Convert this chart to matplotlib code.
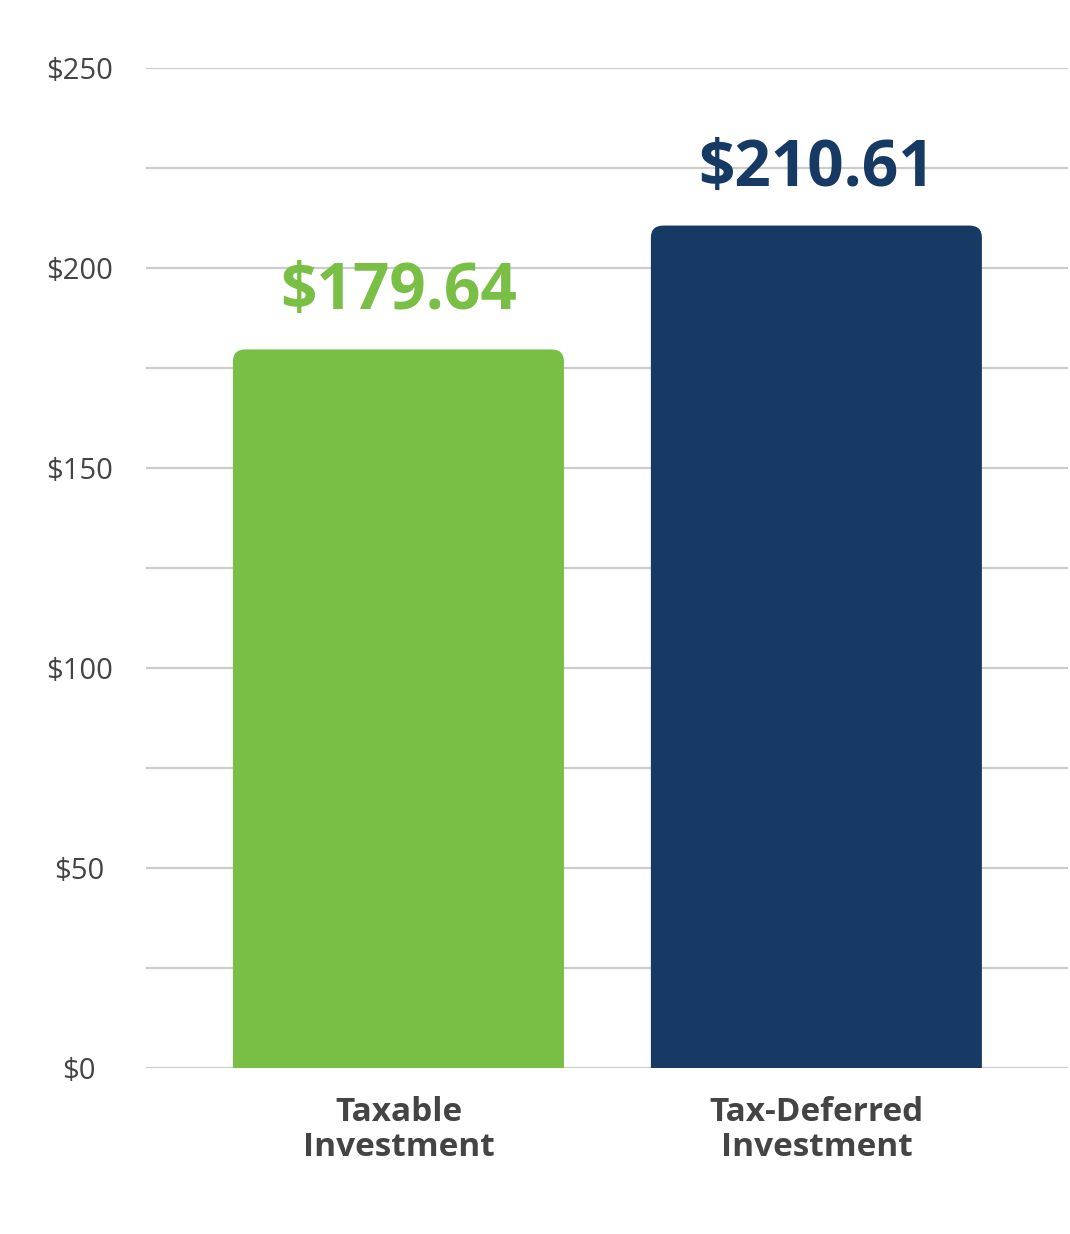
import matplotlib
matplotlib.use("Agg")
import matplotlib.pyplot as plt
from matplotlib.patches import FancyBboxPatch

# chart data
categories = ["Taxable\nInvestment", "Tax-Deferred\nInvestment"]
values = [179.64, 210.61]
colors = ["#7abf45", "#173a65"]
y_ticks = [0, 50, 100, 150, 200, 250]
y_tick_labels = ["$0", "$50", "$100", "$150", "$200", "$250"]

plt.rcParams["font.family"] = ["Open Sans", "DejaVu Sans"]

fig = plt.figure(figsize=(10.7, 12.34), dpi=100)
ax = fig.add_axes([146 / 1070, 166 / 1234, 922 / 1070, 1000 / 1234])

ax.set_xlim(-0.604, 1.602)
ax.set_ylim(0, 250)

# gridlines every 25
for g in range(0, 251, 25):
    ax.axhline(g, color="#cccccc", lw=1.6, zorder=0)

width = 0.792
for i, (v, c) in enumerate(zip(values, colors)):
    patch = FancyBboxPatch((i - width / 2 + 0.03, -20), width - 0.06, v + 20 - 3,
                           boxstyle="round,pad=0.03", mutation_aspect=100,
                           fc=c, ec="none", zorder=2, clip_on=True)
    ax.add_patch(patch)
    ax.text(i, v + 6, f"${v:.2f}", ha="center", va="bottom", color=c,
            fontsize=46, fontweight="bold")

ax.set_xticks(range(len(categories)))
ax.set_xticklabels(categories, fontsize=24, fontweight="bold", color="#444444",
                   linespacing=1.1)
ax.set_yticks(y_ticks)
ax.set_yticklabels(y_tick_labels, fontsize=21, color="#444444")
ax.tick_params(length=0, axis="y", pad=48)
ax.tick_params(length=0, axis="x", pad=20)
for lbl in ax.get_yticklabels():
    lbl.set_horizontalalignment("center")
for s in ax.spines.values():
    s.set_visible(False)

fig.savefig("out.png", dpi=100)
